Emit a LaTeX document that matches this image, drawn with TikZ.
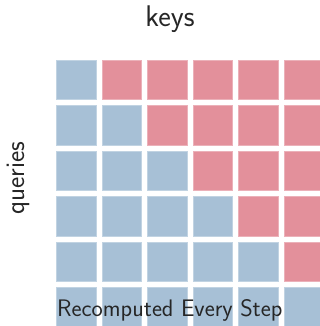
\documentclass[tikz,border=0pt]{standalone}
\usepackage{fontspec}
\definecolor{cellblue}{HTML}{A7C0D6}
\definecolor{cellred}{HTML}{E3909B}
\tikzset{
  cell/.style={minimum size=39.5bp, inner sep=0pt, outer sep=0pt, line width=0.6bp},
  past/.style={cell, fill=cellblue, draw=cellblue!70!white},
  future/.style={cell, fill=cellred, draw=cellred!70!white},
  axislabel/.style={font=\sffamily\fontsize{30}{34}\selectfont, text=black!85, inner sep=0pt, anchor=base},
  banner/.style={font=\sffamily\fontsize{24}{28}\selectfont, text=black!85, inner sep=0pt, anchor=base west}
}
\begin{document}
\begin{tikzpicture}[x=1bp, y=-1bp]
\useasboundingbox (0,0) rectangle (320,326);
\clip (0,0) rectangle (320,326);
% attention mask: row = query, column = key
\foreach \r in {0,...,5} {
  \foreach \c in {0,...,5} {
    \ifnum\c>\r
      \node[future] (c-\r-\c) at ({56.5+19.75+45.5*\c},{60+19.75+45.5*\r}) {};
    \else
      \node[past] (c-\r-\c) at ({56.5+19.75+45.5*\c},{60+19.75+45.5*\r}) {};
    \fi
  }
}
\node[axislabel] (keys) at (170,26) {keys};
\node[axislabel, rotate=90, font=\sffamily\fontsize{27}{31}\selectfont] (queries) at (24,178) {queries};
\node[banner] (note) at (57,316) {Recomputed Every Step};
\end{tikzpicture}
\end{document}
